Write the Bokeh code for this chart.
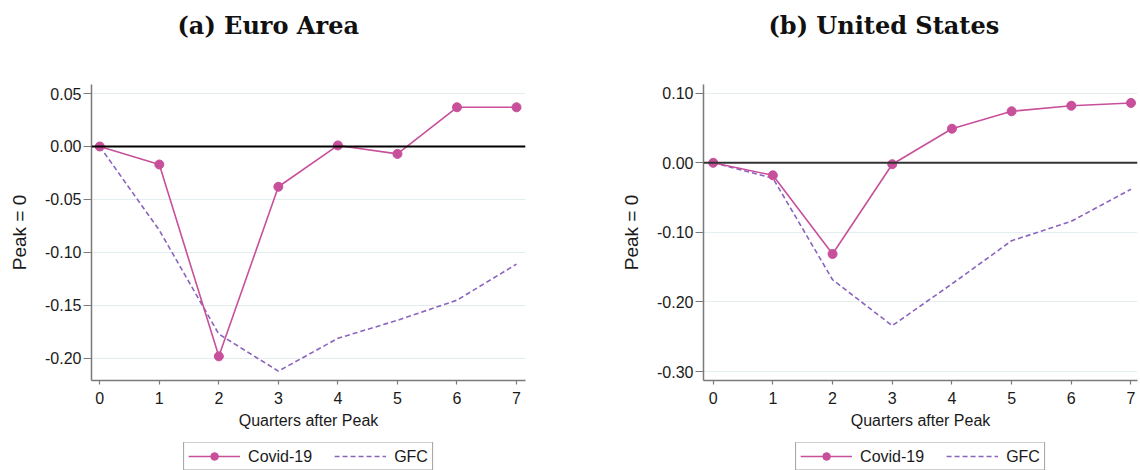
from bokeh.plotting import figure
from bokeh.models import (Span, Legend, LegendItem, FixedTicker, Range1d,
                          NumeralTickFormatter, Title)
from bokeh.layouts import row, column
from bokeh.embed import file_html
from bokeh.resources import INLINE

# ---- data ----
quarters = [0, 1, 2, 3, 4, 5, 6, 7]
ea_covid = [0.0, -0.017, -0.198, -0.038, 0.001, -0.007, 0.037, 0.037]
ea_gfc = [0.0, -0.079, -0.177, -0.212, -0.181, -0.164, -0.145, -0.111]
us_covid = [0.0, -0.018, -0.131, -0.002, 0.049, 0.074, 0.082, 0.086]
us_gfc = [0.0, -0.022, -0.168, -0.234, -0.174, -0.112, -0.084, -0.038]
ea_yticks = [0.05, 0.0, -0.05, -0.10, -0.15, -0.20]
us_yticks = [0.10, 0.0, -0.10, -0.20, -0.30]
series_labels = ["Covid-19", "GFC"]
titles = ["(a) Euro Area", "(b) United States"]
x_title = "Quarters after Peak"
y_title = "Peak = 0"

COVID = "#c8509b"
GFC = "#8a64bf"
SANS = "Liberation Sans"
W = 570
H_TITLE = 56
H_MAIN = 386
H_LEG = 28
FRAME_TOP = 84      # page y of the plot frame top
FRAME_BOTTOM = 380  # page y of the plot frame bottom


def strip(bl, br, height):
    q = figure(width=W, height=height, x_range=Range1d(100, 101),
               y_range=Range1d(0, 1), output_backend="svg",
               toolbar_location=None, title=None,
               x_axis_type=None, y_axis_type=None,
               min_border_left=bl, min_border_right=br,
               min_border_top=0, min_border_bottom=0)
    q.outline_line_color = None
    q.grid.visible = False
    return q


def panel(title, covid, gfc, yticks, yr, xr, bl, br, title_off, zero_color):
    # title strip
    t_fig = strip(bl, br, H_TITLE)
    t_fig.add_layout(Title(text=title, align="left", offset=title_off,
                           vertical_align="top", standoff=20,
                           text_font="DejaVu Serif", text_font_style="bold",
                           text_font_size="24px", text_color="#111111"), "above")

    p = figure(width=W, height=H_MAIN, x_range=Range1d(*xr), y_range=Range1d(*yr),
               output_backend="svg", toolbar_location=None, title=None,
               min_border_left=bl, min_border_right=br,
               min_border_top=FRAME_TOP - H_TITLE,
               min_border_bottom=H_TITLE + H_MAIN - FRAME_BOTTOM)
    p.outline_line_color = None
    p.background_fill_color = "white"

    # axes
    p.xaxis.ticker = FixedTicker(ticks=quarters)
    p.yaxis.ticker = FixedTicker(ticks=yticks)
    p.yaxis.formatter = NumeralTickFormatter(format="0.00")
    for ax in (p.xaxis[0], p.yaxis[0]):
        ax.axis_line_color = "#7a7a7a"
        ax.axis_line_width = 1.5
        ax.major_tick_line_color = "#7a7a7a"
        ax.major_tick_line_width = 1.2
        ax.minor_tick_line_color = None
        ax.major_tick_in = 0
        ax.major_label_text_font = SANS
        ax.major_label_text_font_size = "16px"
        ax.major_label_text_color = "#1a1a1a"
        ax.axis_label_text_font = SANS
        ax.axis_label_text_font_style = "normal"
        ax.axis_label_text_color = "#1a1a1a"
    p.xaxis.major_tick_out = 4
    p.xaxis.major_label_standoff = 7
    p.xaxis.axis_label = x_title
    p.xaxis.axis_label_text_font_size = "16px"
    p.xaxis.axis_label_standoff = 5
    p.yaxis.major_tick_out = 8
    p.yaxis.major_label_standoff = 2
    p.yaxis.axis_label = y_title
    p.yaxis.axis_label_text_font_size = "19px"
    p.yaxis.axis_label_standoff = 12

    # grid
    p.xgrid.visible = False
    p.ygrid.ticker = FixedTicker(ticks=yticks)
    p.ygrid.grid_line_color = "#e4edf0"
    p.ygrid.grid_line_width = 1

    p.add_layout(Span(location=0, dimension="width", line_color=zero_color,
                      line_width=2))

    p.line(quarters, gfc, line_color=GFC, line_width=1.6, line_dash="5 3")
    p.line(quarters, covid, line_color=COVID, line_width=1.6)
    p.scatter(quarters, covid, size=9, fill_color=COVID, line_color=COVID)

    # legend strip beneath the panel (same horizontal frame as the panel);
    # its renderers hold the data but lie outside the strip's visible range
    q = strip(bl, br, H_LEG)
    lg = q.line(quarters, covid, line_color=COVID, line_width=1.6)
    cg = q.scatter(quarters, covid, size=9, fill_color=COVID, line_color=COVID)
    gg = q.line(quarters, gfc, line_color=GFC, line_width=1.6, line_dash="5 3")
    legend = Legend(items=[LegendItem(label=series_labels[0], renderers=[lg, cg]),
                           LegendItem(label=series_labels[1], renderers=[gg])],
                    orientation="horizontal", location="center")
    legend.border_line_color = "#444444"
    legend.border_line_width = 1
    legend.label_text_font = SANS
    legend.label_text_font_size = "16px"
    legend.label_text_color = "#1a1a1a"
    legend.glyph_width = 52
    legend.glyph_height = 19
    legend.label_height = 19
    legend.label_standoff = 8
    legend.spacing = 22
    legend.padding = 4
    legend.margin = 0
    legend.background_fill_color = "white"
    q.add_layout(legend, "center")
    return column(t_fig, p, q, spacing=0)


c1 = panel(titles[0], ea_covid, ea_gfc, ea_yticks, (-0.2208, 0.0585),
           (-0.139, 7.151), 91, 45, 86, "#000000")
c2 = panel(titles[1], us_covid, us_gfc, us_yticks, (-0.3128, 0.1125),
           (-0.1625, 7.109), 133, 3, 65, "#333333")

layout = row(c1, c2, spacing=0)
open("out.html", "w").write(file_html(layout, INLINE))
